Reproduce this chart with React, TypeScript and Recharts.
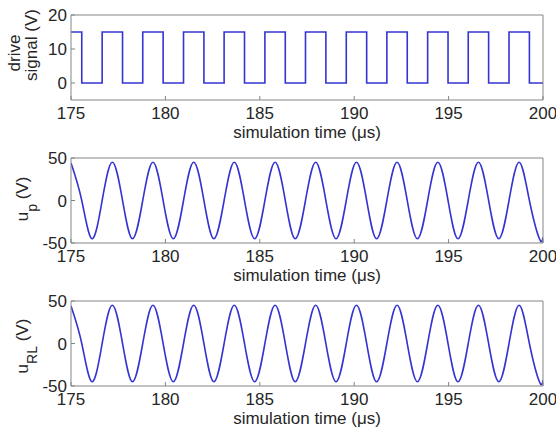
import React from "react"
import { Line, LineChart, XAxis, YAxis } from "recharts"

// time axis (µs)
const timeTicks = [175, 180, 185, 190, 195, 200]

// drive signal: switching instants and the level held after each one
const driveTimes = [
  175, 175.57, 176.65, 177.73, 178.8, 179.88, 180.96, 182.04, 183.11, 184.19, 185.27, 186.35,
  187.42, 188.5, 189.58, 190.66, 191.73, 192.81, 193.89, 194.97, 196.04, 197.12, 198.2, 199.28, 200,
]
const driveLevels = [15, 0, 15, 0, 15, 0, 15, 0, 15, 0, 15, 0, 15, 0, 15, 0, 15, 0, 15, 0, 15, 0, 15, 0, 0]
const driveTicks = [0, 10, 20]

// u_p and u_RL: peaks, troughs and zero crossings
const sineTimes = [
  175, 175.57, 176.11, 176.65, 177.19, 177.73, 178.26, 178.8, 179.34, 179.88, 180.42, 180.96,
  181.5, 182.04, 182.57, 183.11, 183.65, 184.19, 184.73, 185.27, 185.81, 186.35, 186.88, 187.42,
  187.96, 188.5, 189.04, 189.58, 190.12, 190.66, 191.19, 191.73, 192.27, 192.81, 193.35, 193.89,
  194.43, 194.97, 195.5, 196.04, 196.58, 197.12, 197.66, 198.2, 198.74, 199.28, 199.81, 200,
]
const upValues = [
  44, 0, -45, 0, 45, 0, -45, 0, 45, 0, -45, 0, 45, 0, -45, 0, 45, 0, -45, 0, 45, 0, -45, 0, 45, 0,
  -45, 0, 45, 0, -45, 0, 45, 0, -45, 0, 45, 0, -45, 0, 45, 0, -45, 0, 45, 0, -45, -43,
]
const urlValues = [
  44, 0, -45, 0, 45, 0, -45, 0, 45, 0, -45, 0, 45, 0, -45, 0, 45, 0, -45, 0, 45, 0, -45, 0, 45, 0,
  -45, 0, 45, 0, -45, 0, 45, 0, -45, 0, 45, 0, -45, 0, 45, 0, -45, 0, 45, 0, -45, -43,
]
const sineTicks = [-50, 0, 50]

const W = 556
const H = 142
const AXIS = "#858585"
const INK = "#262626"
const BLUE = "#3434d2"
const FONT = "'Liberation Sans', Arial, Helvetica, sans-serif"
const FS = 17

const zip = (ts: number[], vs: number[]) => ts.map((t, i) => ({ t, v: vs[i] }))

const XTitle = () => (
  <text x={307} y={138} textAnchor="middle" fill={INK} fontSize={FS} fontFamily={FONT}>
    simulation time (μs)
  </text>
)

const DriveLabel = () => (
  <g fill={INK} fontSize={FS} fontFamily={FONT}>
    <text transform="rotate(-90 20 53)" x={20} y={53} textAnchor="middle">drive</text>
    <text transform="rotate(-90 37 45)" x={37} y={45} textAnchor="middle">signal (V)</text>
  </g>
)

const subLabel = (sub: string, cy: number) => () => (
  <text
    transform={`rotate(-90 28 ${cy})`}
    x={28}
    y={cy}
    textAnchor="middle"
    fill={INK}
    fontSize={FS}
    fontFamily={FONT}
  >
    u
    <tspan dy={9} fontSize={14}>{sub}</tspan>
    <tspan dy={-9}> (V)</tspan>
  </text>
)

interface PanelProps {
  top: number
  data: Array<{ t: number; v: number }>
  yDomain: [number, number]
  yTicks: number[]
  curve: "stepAfter" | "natural"
  yLabel: () => React.ReactElement
}

function Panel({ top, data, yDomain, yTicks, curve, yLabel }: PanelProps) {
  const tickStyle = { fill: INK, fontSize: FS, fontFamily: FONT }
  return (
    <div style={{ position: "absolute", left: 0, top, width: W, height: H }}>
      <LineChart width={W} height={H} data={data} margin={{ top: 14, right: 12, bottom: 2, left: 0 }}>
        <XAxis
          xAxisId="b"
          dataKey="t"
          type="number"
          domain={[175, 200]}
          ticks={timeTicks}
          interval={0}
          allowDataOverflow
          height={40}
          tickSize={-4}
          tickMargin={11}
          stroke={AXIS}
          tick={tickStyle}
          label={XTitle}
        />
        <XAxis
          xAxisId="t"
          orientation="top"
          dataKey="t"
          type="number"
          domain={[175, 200]}
          ticks={timeTicks}
          interval={0}
          allowDataOverflow
          height={1}
          tickSize={-4}
          tick={false}
          stroke={AXIS}
        />
        <YAxis
          yAxisId="l"
          type="number"
          domain={yDomain}
          ticks={yTicks}
          interval={0}
          allowDataOverflow
          width={71}
          tickSize={-4}
          tickMargin={8}
          stroke={AXIS}
          tick={tickStyle}
          label={yLabel}
        />
        <YAxis
          yAxisId="r"
          orientation="right"
          type="number"
          domain={yDomain}
          ticks={yTicks}
          interval={0}
          allowDataOverflow
          width={1}
          tickSize={-4}
          tick={false}
          stroke={AXIS}
        />
        <Line
          xAxisId="b"
          yAxisId="l"
          dataKey="v"
          type={curve}
          stroke={BLUE}
          strokeWidth={1.6}
          dot={false}
          isAnimationActive={false}
        />
      </LineChart>
    </div>
  )
}

export default function App() {
  return (
    <div style={{ position: "absolute", left: 0, top: 0, width: W, height: 428, background: "#fff" }}>
      <Panel
        top={0}
        data={zip(driveTimes, driveLevels)}
        yDomain={[-5, 20]}
        yTicks={driveTicks}
        curve="stepAfter"
        yLabel={DriveLabel}
      />
      <Panel
        top={143}
        data={zip(sineTimes, upValues)}
        yDomain={[-50, 50]}
        yTicks={sineTicks}
        curve="natural"
        yLabel={subLabel("p", 56)}
      />
      <Panel
        top={286}
        data={zip(sineTimes, urlValues)}
        yDomain={[-50, 50]}
        yTicks={sineTicks}
        curve="natural"
        yLabel={subLabel("RL", 60)}
      />
    </div>
  )
}
